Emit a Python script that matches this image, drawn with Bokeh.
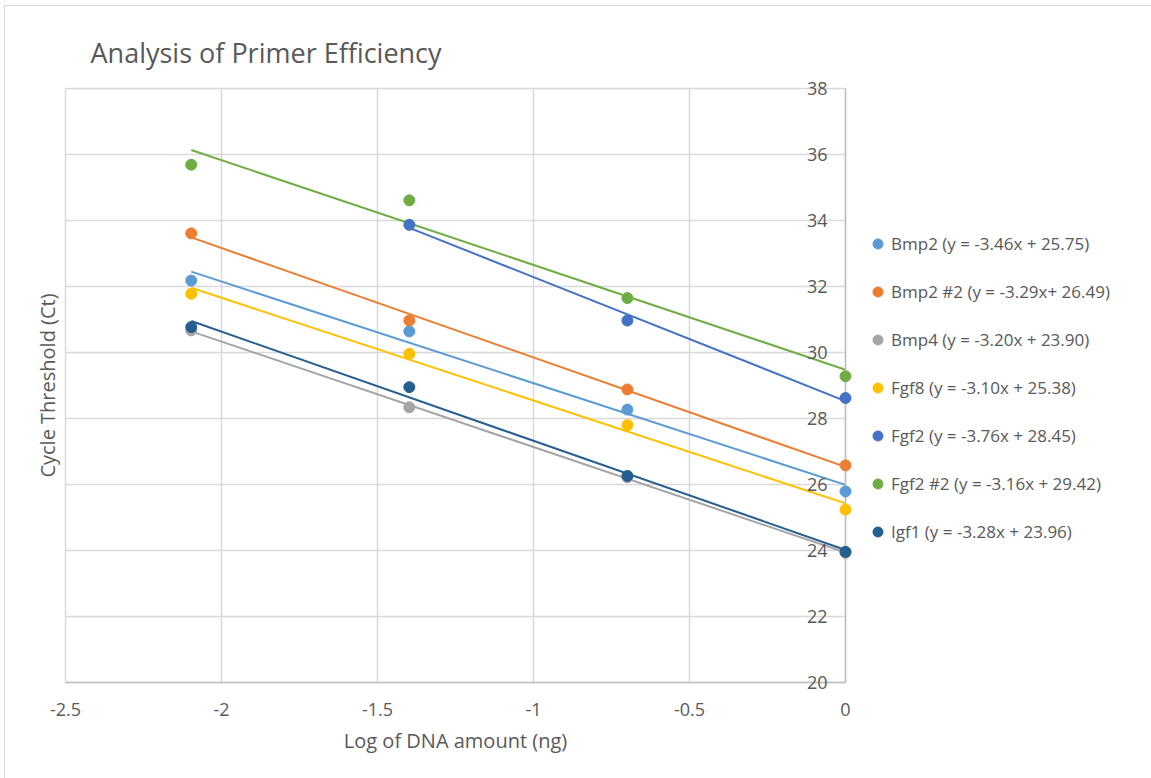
import numpy as np
from bokeh.plotting import figure
from bokeh.models import (LinearAxis, FixedTicker, Legend, LegendItem,
                          ColumnDataSource, Range1d)
from bokeh.core.properties import value
from bokeh.embed import file_html
from bokeh.resources import INLINE

# ---------------- data ----------------
log_dna = [-2.097, -1.398, -0.699, 0.0]

series_names = ["Bmp2", "Bmp2 #2", "Bmp4", "Fgf8", "Fgf2", "Fgf2 #2", "Igf1"]
legend_labels = [
    "Bmp2 (y = -3.46x + 25.75)",
    "Bmp2 #2 (y = -3.29x+ 26.49)",
    "Bmp4 (y = -3.20x + 23.90)",
    "Fgf8 (y = -3.10x + 25.38)",
    "Fgf2 (y = -3.76x + 28.45)",
    "Fgf2 #2 (y = -3.16x + 29.42)",
    "Igf1 (y = -3.28x + 23.96)",
]
bmp2 = [32.18, 30.64, 28.27, 25.79]
bmp2_2 = [33.61, 30.97, 28.88, 26.58]
bmp4 = [30.67, 28.34, 26.22, 23.93]
fgf8 = [31.78, 29.96, 27.80, 25.24]
fgf2 = [None, 33.87, 30.97, 28.62]
fgf2_2 = [35.69, 34.61, 31.65, 29.28]
igf1 = [30.77, 28.95, 26.26, 23.96]

series_values = [bmp2, bmp2_2, bmp4, fgf8, fgf2, fgf2_2, igf1]
colors = ["#5B9BD5", "#ED7D31", "#A5A5A5", "#FFC000", "#4472C4", "#70AD47", "#255E91"]

x_ticks = [-2.5, -2, -1.5, -1, -0.5, 0]
x_tick_labels = ["-2.5", "-2", "-1.5", "-1", "-0.5", "0"]
y_ticks = [20, 22, 24, 26, 28, 30, 32, 34, 36, 38]
y_tick_labels = [str(v) for v in y_ticks]

FONT = "Open Sans"
TXT = "#595959"

p = figure(frame_width=780, frame_height=594,
           x_range=Range1d(-2.5, 0), y_range=Range1d(20, 38),
           output_backend="svg", toolbar_location=None,
           min_border_left=60, min_border_right=306,
           min_border_top=82, min_border_bottom=96,
           title="Analysis of Primer Efficiency")
p.outline_line_color = "#d9d9d9"
p.outline_line_width = 1.5
p.background_fill_color = "white"
p.border_fill_color = "white"
p.styles = {"margin": "5px 0px 0px 4px",
            "border-left": "1px solid #d9d9d9",
            "border-top": "1px solid #d9d9d9"}

p.title.text_font = FONT
p.title.text_font_size = "27px"
p.title.text_font_style = "normal"
p.title.text_color = TXT
p.title.align = "left"
p.title.offset = 25
p.title.standoff = 36

# x axis
p.xaxis.ticker = FixedTicker(ticks=x_ticks)
p.xaxis.major_label_overrides = {t: l for t, l in zip(x_ticks, x_tick_labels)}
p.xaxis.axis_line_color = "#bfbfbf"
p.xaxis.axis_line_width = 1.5
p.xaxis.major_tick_line_color = None
p.xaxis.minor_tick_line_color = None
p.xaxis.major_tick_out = 0
p.xaxis.major_label_standoff = 20
p.xaxis.major_label_text_font = FONT
p.xaxis.major_label_text_font_size = "18px"
p.xaxis.major_label_text_color = TXT
p.xaxis.axis_label = "Log of DNA amount (ng)"
p.xaxis.axis_label_text_font = FONT
p.xaxis.axis_label_text_font_size = "20px"
p.xaxis.axis_label_text_font_style = "normal"
p.xaxis.axis_label_text_color = TXT
p.xaxis.axis_label_standoff = 8

# left y axis: title only
p.yaxis.ticker = FixedTicker(ticks=[])
p.yaxis.axis_line_color = None
p.yaxis.major_tick_line_color = None
p.yaxis.minor_tick_line_color = None
p.yaxis.major_tick_out = 0
p.yaxis.major_label_standoff = 0
p.yaxis.axis_label = "Cycle Threshold (Ct)"
p.yaxis.axis_label_text_font = FONT
p.yaxis.axis_label_text_font_size = "20px"
p.yaxis.axis_label_text_font_style = "normal"
p.yaxis.axis_label_text_color = TXT
p.yaxis.axis_label_standoff = 5

# grids
p.xgrid.ticker = FixedTicker(ticks=x_ticks)
p.ygrid.ticker = FixedTicker(ticks=y_ticks)
for g in (p.xgrid, p.ygrid):
    g.grid_line_color = "#d9d9d9"
    g.grid_line_width = 1.5

# axis line at x = 0 (right edge)
raxis = LinearAxis(ticker=FixedTicker(ticks=[]), axis_line_color="#bfbfbf",
                   axis_line_width=1.5,
                   major_tick_line_color=None, minor_tick_line_color=None,
                   major_tick_out=0, major_label_standoff=0)
p.add_layout(raxis, "right")

# y tick labels drawn just left of the x = 0 axis
ysrc = ColumnDataSource(dict(x=[0] * len(y_ticks), y=y_ticks, t=y_tick_labels))
p.text(x="x", y="y", text="t", source=ysrc, x_offset=-18,
       text_align="right", text_baseline="middle", level="overlay",
       text_font=value(FONT), text_font_size="18px", text_color=TXT)

# trendlines (least squares fit of each series)
xs = np.array(log_dna)
for vals, col in zip(series_values, colors):
    ys = np.array([np.nan if v is None else v for v in vals], dtype=float)
    m = ~np.isnan(ys)
    k, b = np.polyfit(xs[m], ys[m], 1)
    x0, x1 = xs[m].min(), xs[m].max()
    p.line([x0, x1], [k * x0 + b, k * x1 + b], line_color=col, line_width=2)

# markers
items = []
for vals, col, lab in zip(series_values, colors, legend_labels):
    ys = [np.nan if v is None else v for v in vals]
    src = ColumnDataSource(dict(x=log_dna, y=ys))
    r = p.scatter("x", "y", source=src, size=11, marker="circle",
                  fill_color=col, line_color=col, level="overlay")
    items.append(LegendItem(label=lab, renderers=[r]))

legend = Legend(items=items, location=(-218, 138),
                padding=0, margin=0, spacing=23,
                glyph_width=25, glyph_height=25, label_height=25,
                label_standoff=1,
                label_text_font=FONT, label_text_font_size="17px",
                label_text_color=TXT,
                border_line_color=None, background_fill_alpha=0)
p.add_layout(legend, "right")

open("out.html", "w").write(file_html(p, INLINE))
